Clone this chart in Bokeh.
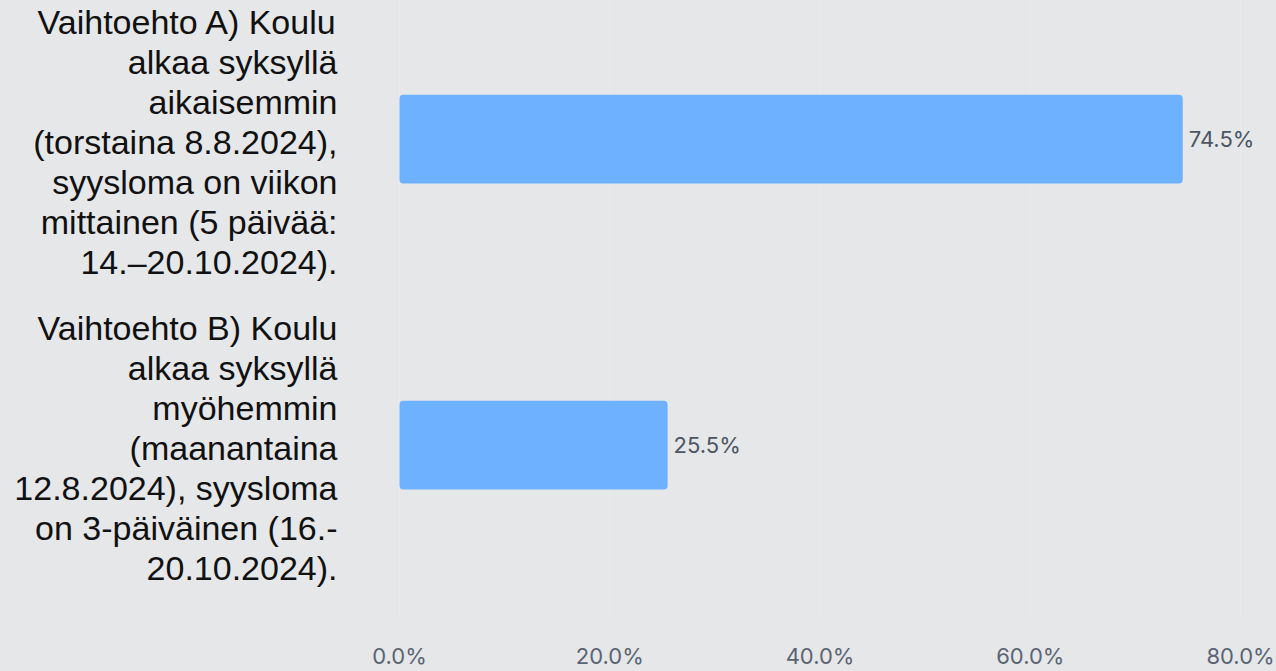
from bokeh.plotting import figure
from bokeh.models import ColumnDataSource, Range1d, FixedTicker, PrintfTickFormatter
from bokeh.core.properties import value
from bokeh.embed import file_html
from bokeh.resources import INLINE

# ---- data ----
categories = [
    "Vaihtoehto A) Koulu\nalkaa syksyllä\naikaisemmin\n(torstaina 8.8.2024),\nsyysloma on viikon\nmittainen (5 päivää:\n14.–20.10.2024).",
    "Vaihtoehto B) Koulu\nalkaa syksyllä\nmyöhemmin\n(maanantaina\n12.8.2024), syysloma\non 3-päiväinen (16.-\n20.10.2024).",
]
percentages = [74.5, 25.5]
value_labels = ["74.5%", "25.5%"]
x_ticks = [0, 20, 40, 60, 80]

BG = "#e6e7e9"
BAR = "#6db1ff"

n = len(categories)
ypos = [n - 1 - i for i in range(n)]  # first category on top

src = ColumnDataSource(dict(y=ypos, v=percentages, lab=value_labels, cat=categories,
                            zero=[0] * n))

W, H = 1276, 671
p = figure(width=W, height=H, output_backend="svg", toolbar_location=None,
           x_range=Range1d(-37.955, 83.42), y_range=Range1d(-0.5568, 1.4529),
           min_border_left=0, min_border_right=0, min_border_top=0, min_border_bottom=52)

p.background_fill_color = BG
p.border_fill_color = BG
p.outline_line_color = None
p.styles = {"background-color": BG}

p.hbar(y="y", left=0, right="v", height=0.29, source=src, fill_color=BAR,
       line_color=None, border_radius=4)

p.text(x="v", y="y", text="lab", source=src, x_offset=6, text_align="left",
       text_baseline="middle", text_font=value("Inter"), text_font_size="22px",
       text_color="#4b5563")

p.text(x="zero", y="y", text="cat", source=src, x_offset=-62, y_offset=3,
       text_align="right", text_baseline="middle", text_font=value("Liberation Sans"),
       text_font_size="34px", text_line_height=1.05, text_color="#111111")

p.yaxis.visible = False
p.xaxis.ticker = FixedTicker(ticks=x_ticks)
p.xaxis.formatter = PrintfTickFormatter(format="%.1f%%")
p.xaxis.axis_line_color = None
p.xaxis.major_tick_line_color = None
p.xaxis.minor_tick_line_color = None
p.xaxis.major_tick_out = 0
p.xaxis.major_tick_in = 0
p.xaxis.major_label_text_font = "Inter"
p.xaxis.major_label_text_font_size = "22px"
p.xaxis.major_label_text_color = "#5b6472"
p.xaxis.major_label_standoff = 27

p.xgrid.ticker = FixedTicker(ticks=x_ticks)
p.xgrid.grid_line_color = "#e9eaec"
p.xgrid.grid_line_width = 1
p.ygrid.grid_line_color = None

open("out.html", "w").write(file_html(p, INLINE))
